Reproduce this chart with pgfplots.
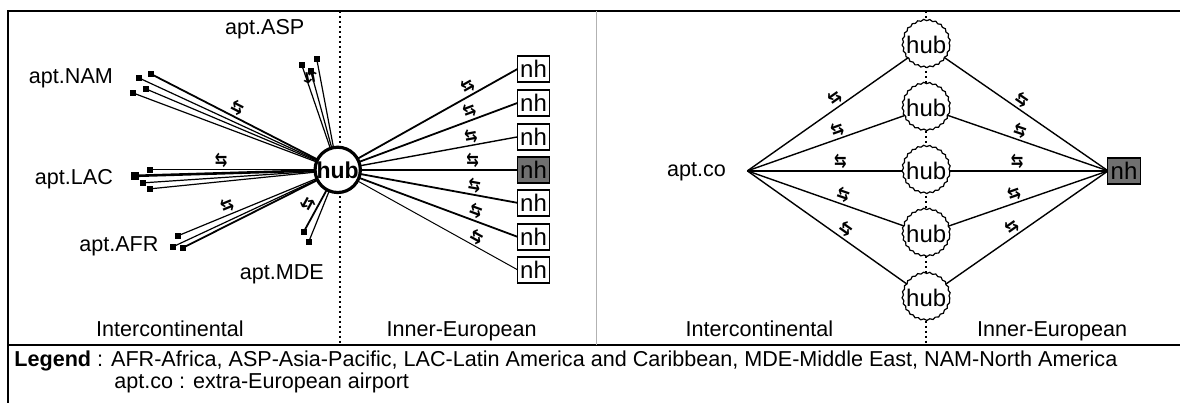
\documentclass[border=0pt]{standalone}
\usepackage{fontspec}
\setmainfont{Liberation Sans}
\newfontfamily\symf{DejaVu Sans}
\usepackage{pgfplots}
\pgfplotsset{compat=1.18}
\usetikzlibrary{decorations.pathmorphing}
\newcommand{\xch}{\scalebox{1}[1.3]{\symf\fontsize{7.5}{7.5}\selectfont\bfseries ⇆}}
\definecolor{nhgray}{HTML}{707070}
\tikzset{
    sym/.style={pos=#1, sloped, above, inner sep=0.6pt},
    symb/.style={pos=#1, sloped, below, inner sep=0.6pt},
}
\pgfplotsset{
    spoke/.style={black, line width=0.6pt, mark=square*, mark size=1.1pt, mark indices={2}},
    link/.style={black, line width=0.7pt, mark=none},
    nhbox/.style={only marks, mark=none, nodes near coords={nh},
        every node near coord/.style={draw, fill=#1, line width=0.8pt,
            font=\fontsize{12}{12}\selectfont,
            minimum width=16pt, minimum height=13pt, inner sep=0pt, anchor=center}},
}

\begin{document}
\begin{tikzpicture}[font=\fontsize{10.8}{12}\selectfont]
\begin{axis}[
    scale only axis,
    width=590.5pt, height=201.5pt,
    xmin=0, xmax=1181, ymin=0, ymax=403,
    y dir=reverse,
    hide axis, clip=false,
]
\path (axis cs:0,0) (axis cs:1181,403);

% frame
\addplot[black, line width=1pt, mark=none] coordinates {(8,403) (8,11) (1181,11)};
\addplot[black, line width=1pt, mark=none] coordinates {(8,345) (1181,345)};
\addplot[black!30, line width=0.5pt, mark=none] coordinates {(597,11) (597,345)};
\addplot[black, line width=0.9pt, dash pattern=on 0.9pt off 1.6pt, mark=none] coordinates {(340,11) (340,345)};
\addplot[black, line width=0.9pt, dash pattern=on 0.9pt off 1.6pt, mark=none] coordinates {(927,11) (927,345)};

% left panel: intercontinental spokes
\addplot[spoke] coordinates {(338,170) (139,78)};
\addplot[spoke, line width=0.9pt] coordinates {(338,170) (151,74)} node[sym=0.56] {\xch};
\addplot[spoke] coordinates {(338,170) (133,93)};
\addplot[spoke] coordinates {(338,170) (146,89)};

\addplot[spoke] coordinates {(338,170) (302,65)};
\addplot[spoke] coordinates {(338,170) (311,71)};
\addplot[spoke] coordinates {(338,170) (317,59)} node[symb=0.85] {\xch};

\addplot[spoke] coordinates {(338,170) (150,170)} node[sym=0.62] {\xch};
\addplot[spoke, line width=1.3pt, mark size=1.5pt] coordinates {(338,170) (135,176)};
\addplot[spoke] coordinates {(338,170) (143,183)};
\addplot[spoke] coordinates {(338,170) (150,189)};

\addplot[spoke] coordinates {(338,170) (178,236)} node[sym=0.67] {\xch};
\addplot[spoke] coordinates {(338,170) (173,247)};
\addplot[spoke, line width=0.9pt] coordinates {(338,170) (183,248)};

\addplot[spoke, line width=0.9pt] coordinates {(338,170) (304,232)} node[sym=0.63] {\xch};
\addplot[spoke] coordinates {(338,170) (309,242)};

% left panel: inner-European links
\addplot[link, line width=0.9pt] coordinates {(338,170) (518,69)} node[sym=0.75] {\xch};
\addplot[link, line width=0.9pt] coordinates {(338,170) (518,103)} node[sym=0.75] {\xch};
\addplot[link] coordinates {(338,170) (518,137)} node[sym=0.75] {\xch};
\addplot[link, line width=0.9pt] coordinates {(338,170) (518,170)} node[sym=0.75] {\xch};
\addplot[link, line width=0.9pt] coordinates {(338,170) (518,203)} node[sym=0.75] {\xch};
\addplot[link, line width=0.9pt] coordinates {(338,170) (518,237)} node[sym=0.75] {\xch};
\addplot[link, line width=0.5pt] coordinates {(338,170) (518,270)} node[sym=0.75] {\xch};

\addplot[nhbox=white] coordinates {(534,69) (534,103) (534,137) (534,203) (534,237) (534,270)};
\addplot[nhbox=nhgray] coordinates {(534,170)};

\addplot[only marks, mark=none, nodes near coords={\textbf{hub}},
    every node near coord/.style={circle, draw, fill=white, line width=1.6pt,
        font=\fontsize{11.5}{12}\selectfont,
        minimum size=22.5pt, inner sep=0pt, anchor=center}] coordinates {(338,170)};

% right panel
\addplot[link] coordinates {(748,171) (927,45)} node[sym=0.52] {\xch};
\addplot[link] coordinates {(748,171) (927,108)} node[sym=0.52] {\xch};
\addplot[link] coordinates {(748,171) (927,171)} node[sym=0.52] {\xch};
\addplot[link] coordinates {(748,171) (927,234)} node[sym=0.52] {\xch};
\addplot[link] coordinates {(748,171) (927,298)} node[sym=0.52] {\xch};
\addplot[link] coordinates {(927,45) (1109,171)} node[sym=0.5] {\xch};
\addplot[link] coordinates {(927,108) (1109,171)} node[sym=0.5] {\xch};
\addplot[link] coordinates {(927,171) (1109,171)} node[sym=0.5] {\xch};
\addplot[link] coordinates {(927,234) (1109,171)} node[sym=0.5] {\xch};
\addplot[link] coordinates {(927,298) (1109,171)} node[sym=0.5] {\xch};

\addplot[only marks, mark=none, nodes near coords={hub},
    every node near coord/.style={circle, draw, fill=white, line width=0.6pt,
        font=\fontsize{12}{12}\selectfont,
        minimum size=23.5pt, inner sep=0pt, anchor=center,
        decorate, decoration={snake, amplitude=0.35pt, segment length=3pt}}]
    coordinates {(927,45) (927,108) (927,171) (927,234) (927,298)};

\addplot[only marks, mark=none, nodes near coords={nh},
    every node near coord/.style={draw, fill=nhgray, line width=0.8pt,
        font=\fontsize{12}{12}\selectfont,
        minimum width=16.5pt, minimum height=13pt, inner sep=0pt, anchor=center}]
    coordinates {(1125,171)};

% labels
\node[anchor=base] at (axis cs:265,35) {apt.ASP};
\node[anchor=base] at (axis cs:71,84) {apt.NAM};
\node[anchor=base] at (axis cs:74,185) {apt.LAC};
\node[anchor=base] at (axis cs:119,252) {apt.AFR};
\node[anchor=base] at (axis cs:282,280) {apt.MDE};
\node[anchor=base] at (axis cs:697,177) {apt.co};

\node[anchor=base] at (axis cs:170,337) {Intercontinental};
\node[anchor=base] at (axis cs:462,337) {Inner-European};
\node[anchor=base] at (axis cs:760,337) {Intercontinental};
\node[anchor=base] at (axis cs:1053,337) {Inner-European};

\node[anchor=base west, inner sep=0pt] at (axis cs:14,367)
    {\textbf{Legend} : AFR-Africa, ASP-Asia-Pacific, LAC-Latin America and Caribbean, MDE-Middle East, NAM-North America};
\node[anchor=base west, inner sep=0pt] at (axis cs:114,389) {apt.co : extra-European airport};
\end{axis}
\end{tikzpicture}
\end{document}
